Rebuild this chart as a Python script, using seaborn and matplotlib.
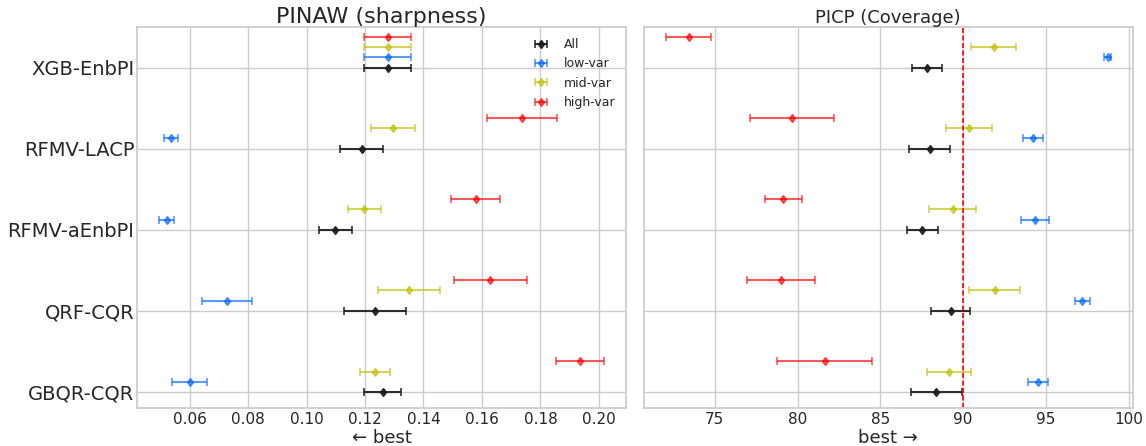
import numpy as np
import matplotlib

matplotlib.use("Agg")
import matplotlib.pyplot as plt
import seaborn as sns

# methods, bottom to top
methods = ["GBQR-CQR", "QRF-CQR", "RFMV-aEnbPI", "RFMV-LACP", "XGB-EnbPI"]
groups = ["All", "low-var", "mid-var", "high-var"]

# PINAW mean / half-width, one list per group (same order as methods)
pinaw_mean = {
    "All":      [0.1260, 0.1234, 0.1098, 0.1188, 0.1277],
    "low-var":  [0.0600, 0.0729, 0.0522, 0.0536, 0.1277],
    "mid-var":  [0.1234, 0.1349, 0.1197, 0.1296, 0.1277],
    "high-var": [0.1936, 0.1629, 0.1578, 0.1737, 0.1277],
}
pinaw_err = {
    "All":      [0.0064, 0.0106, 0.0056, 0.0075, 0.0081],
    "low-var":  [0.0061, 0.0086, 0.0026, 0.0025, 0.0081],
    "mid-var":  [0.0051, 0.0106, 0.0056, 0.0076, 0.0081],
    "high-var": [0.0082, 0.0125, 0.0084, 0.0120, 0.0081],
}

# PICP mean / half-width (%)
picp_mean = {
    "All":      [88.38, 89.24, 87.53, 87.97, 87.81],
    "low-var":  [94.54, 97.20, 94.34, 94.20, 98.73],
    "mid-var":  [89.16, 91.90, 89.36, 90.37, 91.84],
    "high-var": [81.63, 79.01, 79.15, 79.65, 73.43],
}
picp_err = {
    "All":      [1.54, 1.17, 0.93, 1.26, 0.90],
    "low-var":  [0.61, 0.47, 0.87, 0.60, 0.20],
    "mid-var":  [1.32, 1.52, 1.40, 1.38, 1.38],
    "high-var": [2.85, 2.06, 1.10, 2.55, 1.37],
}

target_coverage = 90

colors = {"All": "k", "low-var": "#0066ff", "mid-var": "#bfbf00", "high-var": "red"}
alphas = {"All": 0.9, "low-var": 0.65, "mid-var": 0.65, "high-var": 0.65}
offset = 0.125

sns.set_theme(style="whitegrid")

fig, axes = plt.subplots(1, 2, figsize=(11.46, 4.46), dpi=100, sharey=True)
fig.subplots_adjust(left=0.1195, right=0.9887, top=0.9395, bottom=0.0852, wspace=0.035)

base = np.arange(len(methods))
for ax, means, errs in ((axes[0], pinaw_mean, pinaw_err), (axes[1], picp_mean, picp_err)):
    for i, g in enumerate(groups):
        ax.errorbar(means[g], base + i * offset, xerr=errs[g], fmt="d",
                    color=colors[g], alpha=alphas[g], markersize=4.5,
                    elinewidth=1.5, capsize=3, capthick=1.2, label=g)
    ax.tick_params(axis="both", length=0)
    ax.tick_params(axis="x", labelsize=11, pad=3)

axes[0].set_yticks(base)
axes[0].set_yticklabels(methods, fontsize=14)
axes[0].tick_params(axis="y", pad=2)
axes[0].set_ylim(-0.2, 4.5)
axes[0].set_title("PINAW (sharpness)", fontsize=16, pad=3)
axes[0].set_xlabel("← best", fontsize=13, labelpad=1)
axes[0].legend(loc="upper right", frameon=False, fontsize=9,
               bbox_to_anchor=(1.0, 1.0), handletextpad=0.8)

axes[1].axvline(target_coverage, color="red", linestyle=(0, (3, 1.5)), linewidth=1.2)
axes[1].set_xlim(70.7, 100.26)
axes[1].set_title("PICP (Coverage)", fontsize=13, pad=3)
axes[1].set_xlabel("best →", fontsize=13, labelpad=1)

fig.savefig("out.png", dpi=100)
plt.close(fig)
